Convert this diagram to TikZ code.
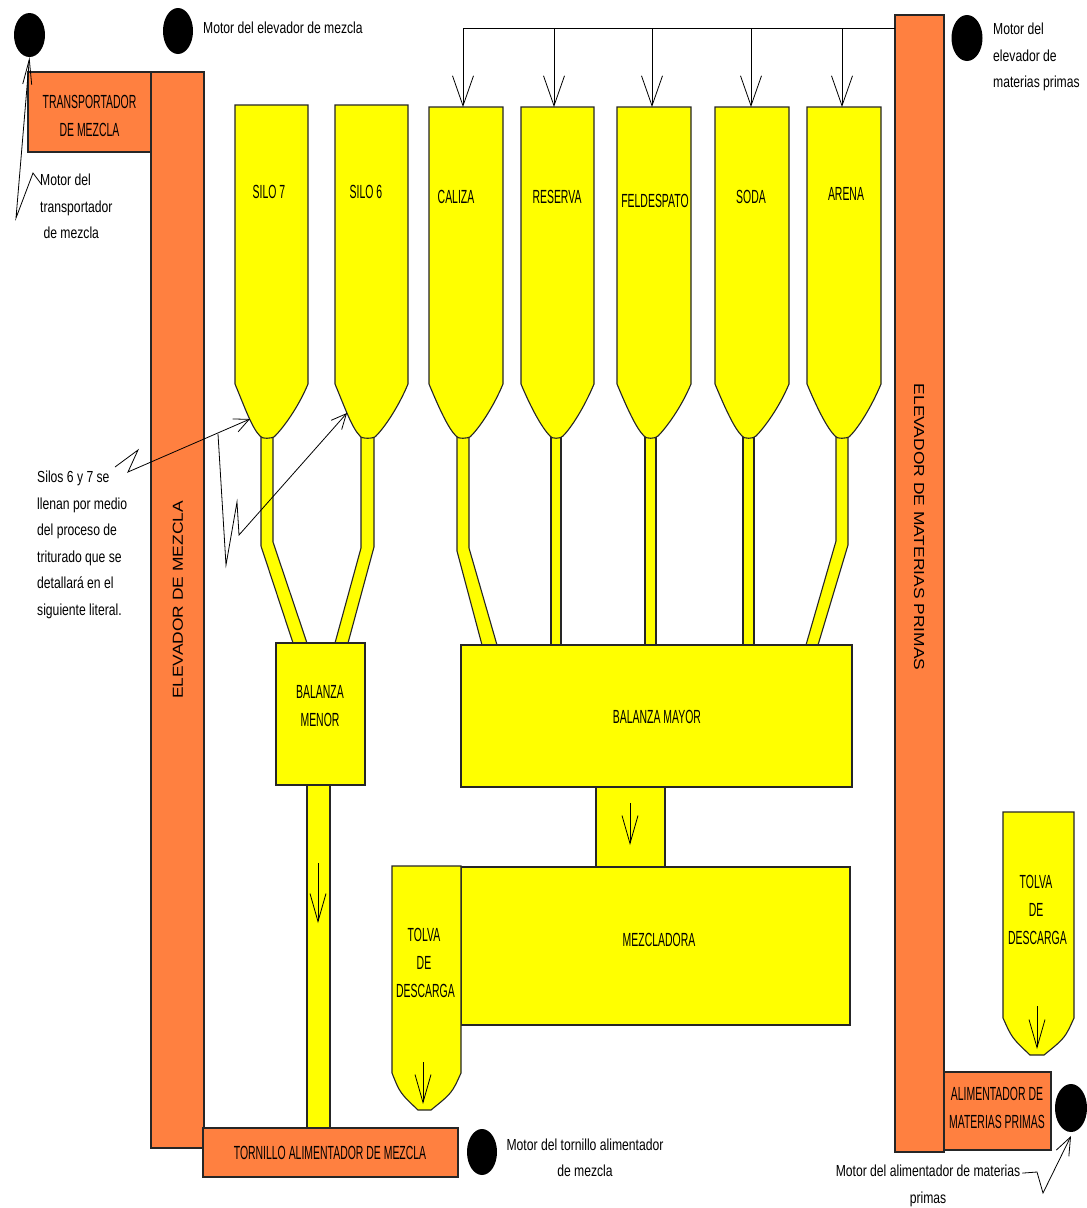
\documentclass[tikz,border=0pt]{standalone}
\usepackage{fontspec}
\setmainfont{Liberation Sans}
\newfontfamily\labfont{Liberation Sans}[FakeStretch=0.55]
\newfontfamily\annfont{Liberation Sans}[FakeStretch=0.76]
\newfontfamily\vertfont{Liberation Sans}[FakeStretch=1.2]
\usetikzlibrary{arrows.meta,shapes.geometric}
\definecolor{orng}{RGB}{255,128,64}
\definecolor{yel}{RGB}{255,255,0}
\begin{document}
\begin{tikzpicture}[x=1pt,y=-1pt,
  orangebox/.style={draw=black!85, fill=orng, line width=1.1pt},
  yellowpart/.style={draw=black!85, fill=yel, line width=1.1pt},
  motor/.style={ellipse, fill=black, inner sep=0pt},
  lab/.style={font=\labfont\fontsize{19}{28}\selectfont, align=center, inner sep=0pt},
  ann/.style={font=\annfont\fontsize{16}{26.5}\selectfont, inner sep=0pt},
  vlab/.style={font=\vertfont\fontsize{14.5}{17}\selectfont, inner sep=0pt},
  feedarrow/.style={-{Straight Barb[length=30pt,width=21pt]}, line width=0.8pt},
  flowarrow/.style={-{Straight Barb[length=28pt,width=16pt]}, line width=0.8pt},
  zig/.style={-{Straight Barb[length=15pt,width=14pt]}, line width=0.8pt},
]
\useasboundingbox (0,0) rectangle (1087,1208);
\fill[white] (0,0) rectangle (1087,1208);

% ---------- orange equipment ----------
\draw[orangebox] (151,72) rectangle (204,1148);
\draw[orangebox] (28,72) rectangle (151,152);
\draw[orangebox] (203,1128) rectangle (458,1177);
\draw[orangebox] (895,15) rectangle (944,1152);
\draw[orangebox] (944,1072) rectangle (1051,1150);

% ---------- pipes ----------
\draw[yellowpart] (261,430) -- (261,546) -- (293,643) -- (307,643) -- (273,542) -- (273,430) -- cycle;
\draw[yellowpart] (361,430) -- (361,548) -- (335,643) -- (348,643) -- (374,547) -- (374,430) -- cycle;
\draw[yellowpart] (457,430) -- (457,551) -- (482,645) -- (497,645) -- (469,548) -- (469,430) -- cycle;
\draw[yellowpart] (551,430) rectangle (561,645);
\draw[yellowpart] (645,430) rectangle (656,645);
\draw[yellowpart] (743,430) rectangle (754,645);
\draw[yellowpart] (836,430) -- (836,541) -- (806,645) -- (818,645) -- (848,545) -- (848,430) -- cycle;
\draw[yellowpart] (307,780) rectangle (330,1128);

% ---------- silos ----------
\foreach \nm/\L/\R/\T/\pl/\pr/\dx in {
   silo7/235/308/105/261/273/271,
   silo6/335/408/105/361/374/371,
   caliza/429/503/107/457/469/463,
   reserva/521/594/107/551/561/554,
   feldespato/617/691/107/645/656/652,
   soda/715/789/107/743/754/751,
   arena/807/881/107/836/848/842}{
  \draw[yellowpart] (\L,\T) -- (\R,\T) -- (\R,384)
     .. controls ({\R-10},408) and ({\pr+10},428) .. ({\pr+2},436)
     .. controls (\pr,439) and (\pl,439) .. ({\pl-1},436)
     .. controls ({\pl-9},428) and ({\L+10},408) .. (\L,384) -- cycle;
  \coordinate (top-\nm) at (\dx,\T);
  \coordinate (bus-\nm) at (\dx,28);
}

% ---------- weighing, mixing ----------
\draw[yellowpart] (276,643) rectangle (365,785);
\draw[yellowpart] (461,645) rectangle (852,787);
\draw[yellowpart] (596,787) rectangle (665,867);
\draw[yellowpart] (461,867) rectangle (850,1025);
\draw[yellowpart] (392,866) -- (461,866) -- (461,1073)
   .. controls (452,1093) .. (431,1110) -- (418,1110)
   .. controls (400,1093) .. (392,1073) -- cycle;
\draw[yellowpart] (1003,812) -- (1074,812) -- (1074,1018)
   .. controls (1065,1038) .. (1044,1055) -- (1030,1055)
   .. controls (1012,1038) .. (1003,1018) -- cycle;

% ---------- labels ----------
\node[lab] (lTransp) at (89.5,116) {TRANSPORTADOR\\DE MEZCLA};
\node[vlab, rotate=90] (lElevM) at (178,600) {ELEVADOR DE MEZCLA};
\node[vlab, rotate=-90] (lElevMP) at (919,527) {ELEVADOR DE MATERIAS PRIMAS};
\node[lab] (lTorn) at (330,1153) {TORNILLO ALIMENTADOR DE MEZCLA};
\node[lab] (lAlim) at (997,1108) {ALIMENTADOR DE\\MATERIAS PRIMAS};
\node[lab] (lSilo7) at (269,192) {SILO 7};
\node[lab] (lSilo6) at (366,192) {SILO 6};
\node[lab] (lCaliza) at (456,197) {CALIZA};
\node[lab] (lReserva) at (557,197) {RESERVA};
\node[lab] (lFeld) at (655,201) {FELDESPATO};
\node[lab] (lSoda) at (751,197) {SODA};
\node[lab] (lArena) at (846,194) {ARENA};
\node[lab] (lBMenor) at (320,706) {BALANZA\\MENOR};
\node[lab] (lBMayor) at (657,717) {BALANZA MAYOR};
\node[lab] (lMezc) at (659,940) {MEZCLADORA};
\node[lab] (lTolvaL) at (424,963) {TOLVA\\DE\\\ DESCARGA};
\node[lab] (lTolvaR) at (1036,910) {TOLVA\\DE\\\ DESCARGA};

% ---------- motors ----------
\node[motor, minimum width=31pt, minimum height=44pt] (mTransp) at (29.5,35) {};
\node[motor, minimum width=30pt, minimum height=46pt] (mElevM) at (178,31) {};
\node[motor, minimum width=31pt, minimum height=46pt] (mElevMP) at (967,38) {};
\node[motor, minimum width=30pt, minimum height=46pt] (mTorn) at (482,1152) {};
\node[motor, minimum width=32pt, minimum height=48pt] (mAlim) at (1071,1108) {};

% ---------- annotations ----------
\node[ann, anchor=west] (tElevM) at (203,28) {Motor del elevador de mezcla};
\node[ann, anchor=north west, align=left] (tElevMP) at (993,23) {Motor del\\elevador de\\materias primas};
\node[ann, anchor=north west, align=left] (tTransp) at (40,174) {Motor del\\transportador\\\ de mezcla};
\node[ann, anchor=north west, align=left] (tSilos) at (37,471) {Silos 6 y 7 se\\llenan por medio\\del proceso de\\triturado que se\\detallará en el\\siguiente literal.};
\node[ann, align=center] (tTorn) at (585,1158) {Motor del tornillo alimentador\\de mezcla};
\node[ann, align=center] (tAlim) at (928,1186) {Motor del alimentador de materias\\primas};

% ---------- feed line to silos ----------
\coordinate (busEnd) at (895,28);
\draw[line width=0.8pt] (bus-caliza) -- (busEnd);
\foreach \nm in {caliza,reserva,feldespato,soda,arena}
  \draw[feedarrow] (bus-\nm) -- (top-\nm);

% ---------- flow arrows ----------
\coordinate (a1s) at (318,863); \coordinate (a1e) at (318,923);
\coordinate (a2s) at (630,803); \coordinate (a2e) at (630,845);
\coordinate (a3s) at (423,1062); \coordinate (a3e) at (423,1104);
\coordinate (a4s) at (1037,1006); \coordinate (a4e) at (1037,1049);
\draw[flowarrow] (a1s) -- (a1e);
\draw[flowarrow] (a2s) -- (a2e);
\draw[flowarrow] (a3s) -- (a3e);
\draw[flowarrow] (a4s) -- (a4e);

% ---------- lightning pointers ----------
\draw[-{Straight Barb[length=25pt,width=9pt]}, line width=0.8pt]
   (42,185) -- (33,173) -- (16,218) -- (mTransp.south);
\draw[zig] (115,467) -- (138,450) -- (128,472) -- (250,419);
\draw[zig] (218,434) -- (226,565) -- (237,502) -- (239,535) -- (347,413);
\draw[-{Straight Barb[length=18pt,width=14pt]}, line width=0.8pt]
   (tAlim.north east) ++(2,8) -- (1037,1172) -- (1043,1193) -- (1071,1136);
\end{tikzpicture}
\end{document}
